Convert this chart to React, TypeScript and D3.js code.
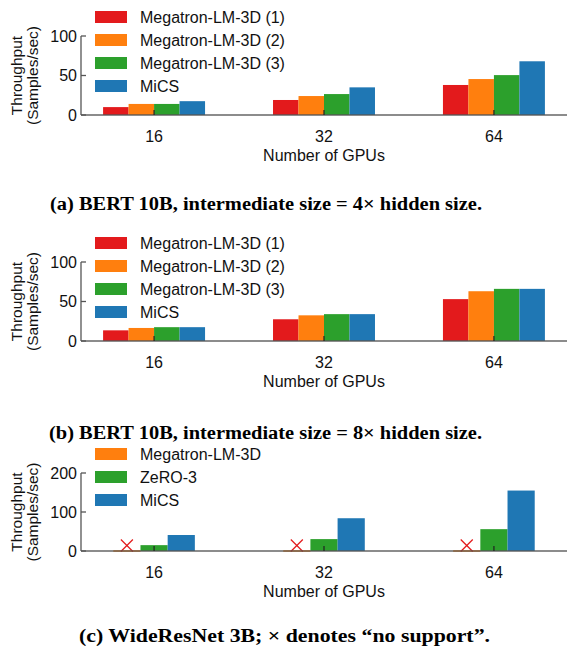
import * as d3 from 'd3';

// ---- data -----------------------------------------------------------------
const gpus = ['16', '32', '64'];

const seriesA = ['Megatron-LM-3D (1)', 'Megatron-LM-3D (2)', 'Megatron-LM-3D (3)', 'MiCS'];
const valuesA = [
  [10, 19, 38],
  [14, 24, 45.5],
  [14, 26.5, 50.5],
  [17.5, 35, 68],
];

const seriesB = ['Megatron-LM-3D (1)', 'Megatron-LM-3D (2)', 'Megatron-LM-3D (3)', 'MiCS'];
const valuesB = [
  [13.5, 27.5, 53],
  [16.5, 32.5, 63],
  [17.5, 34, 66],
  [17.5, 34, 66],
];

const seriesC = ['Megatron-LM-3D', 'ZeRO-3', 'MiCS'];
// null = no support (drawn as a red cross)
const valuesC: (number | null)[][] = [
  [null, null, null],
  [15, 30.5, 56],
  [41, 84, 155],
];

const captions = [
  '(a) BERT 10B, intermediate size = 4× hidden size.',
  '(b) BERT 10B, intermediate size = 8× hidden size.',
  '(c) WideResNet 3B; × denotes “no support”.',
];

const COLORS_4 = ['#e31a1c', '#ff7f0e', '#2ca02c', '#1f77b4'];
const COLORS_3 = ['#ff7f0e', '#2ca02c', '#1f77b4'];

// ---- layout ---------------------------------------------------------------
const W = 567;
const H = 649;
const LEFT = 81;
const RIGHT = 567;
const FONT = '"Liberation Sans", Arial, sans-serif';
const AXIS = '#555';

interface PanelDef {
  series: string[];
  values: (number | null)[][];
  colors: string[];
  yMax: number;
  yTicks: number[];
  y0: number; // pixel of value 0
  y1: number; // pixel of yMax
  barFrac: number;
  caption: string;
  captionX: number;
  captionY: number;
  captionW: number;
}

const panels: PanelDef[] = [
  {
    series: seriesA, values: valuesA, colors: COLORS_4, yMax: 100, yTicks: [0, 50, 100],
    y0: 115, y1: 36, barFrac: 0.15,
    caption: captions[0], captionX: 50, captionY: 209.5, captionW: 432,
  },
  {
    series: seriesB, values: valuesB, colors: COLORS_4, yMax: 100, yTicks: [0, 50, 100],
    y0: 341, y1: 262, barFrac: 0.15,
    caption: captions[1], captionX: 49, captionY: 438.5, captionW: 433,
  },
  {
    series: seriesC, values: valuesC, colors: COLORS_3, yMax: 200, yTicks: [0, 100, 200],
    y0: 551, y1: 473, barFrac: 0.16,
    caption: captions[2], captionX: 79, captionY: 642, captionW: 411,
  },
];

function Panel({ p }: { p: PanelDef }) {
  const x = d3.scalePoint<string>().domain(gpus).range([LEFT, RIGHT]).padding(0.43);
  const step = x.step();
  const bw = step * p.barFrac;
  const inner = d3
    .scaleBand<number>()
    .domain(d3.range(p.series.length))
    .range([(-bw * p.series.length) / 2, (bw * p.series.length) / 2]);
  const y = d3.scaleLinear().domain([0, p.yMax]).range([p.y0, p.y1]);
  const yMid = (p.y0 + p.y1) / 2;

  return (
    <g>
      {/* bars */}
      {p.values.map((row, si) =>
        row.map((v, gi) => {
          const bx = (x(gpus[gi]) ?? 0) + (inner(si) ?? 0);
          if (v == null) {
            // zero-height bar plus a red cross for "no support"
            const cx = bx + inner.bandwidth() / 2;
            const cy = y(0) - 5.5;
            const r = 6;
            return (
              <g key={`${si}-${gi}`}>
                <line x1={bx} x2={bx + inner.bandwidth()} y1={y(0)} y2={y(0)} stroke={p.colors[si]} strokeWidth={1.5} />
                <g stroke="#e31a1c" strokeWidth={1.3}>
                  <line x1={cx - r} y1={cy - r} x2={cx + r} y2={cy + r} />
                  <line x1={cx - r} y1={cy + r} x2={cx + r} y2={cy - r} />
                </g>
              </g>
            );
          }
          return (
            <rect
              key={`${si}-${gi}`}
              x={bx}
              y={y(v)}
              width={inner.bandwidth()}
              height={y(0) - y(v)}
              fill={p.colors[si]}
            />
          );
        }),
      )}

      {/* axes */}
      <line x1={LEFT} x2={RIGHT} y1={p.y0} y2={p.y0} stroke={AXIS} strokeWidth={1.3} strokeOpacity={0.9} />
      <line x1={LEFT} x2={LEFT} y1={p.y0} y2={p.y1} stroke={AXIS} strokeWidth={1.3} />
      {p.yTicks.map((t) => (
        <g key={t}>
          <line x1={LEFT} x2={LEFT + 5} y1={y(t)} y2={y(t)} stroke={AXIS} strokeWidth={1.3} />
          <text x={LEFT - 4} y={y(t)} dy="0.35em" textAnchor="end" fontSize={16} fill="#111">
            {t}
          </text>
        </g>
      ))}
      {gpus.map((g) => (
        <g key={g}>
          <line x1={x(g)} x2={x(g)} y1={p.y0} y2={p.y0 - 5} stroke="#222" strokeWidth={1.2} />
          <text x={x(g)} y={p.y0 + 21} dy="0.35em" textAnchor="middle" fontSize={16} fill="#111">
            {g}
          </text>
        </g>
      ))}
      <text x={(LEFT + RIGHT) / 2} y={p.y0 + 40} dy="0.35em" textAnchor="middle" fontSize={16} fill="#111">
        Number of GPUs
      </text>
      <g transform={`translate(0,${yMid}) rotate(-90)`} fontSize={15.5} fill="#111" textAnchor="middle">
        <text x={0} y={17} dy="0.35em">Throughput</text>
        <text x={0} y={33} dy="0.35em">(Samples/sec)</text>
      </g>

      {/* legend */}
      {p.series.map((s, i) => {
        const cy = p.y1 - 19 + i * 23;
        return (
          <g key={s}>
            <rect x={95} y={cy - 6} width={32} height={12} fill={p.colors[i]} />
            <text x={140} y={cy} dy="0.35em" fontSize={16} fill="#111">
              {s}
            </text>
          </g>
        );
      })}

      <text
        x={p.captionX}
        y={p.captionY}
        textLength={p.captionW}
        lengthAdjust="spacingAndGlyphs"
        fontSize={18}
        fontWeight="bold"
        fontFamily='"Liberation Serif", "DejaVu Serif", serif'
        fill="#000"
      >
        {p.caption}
      </text>
    </g>
  );
}

export default function App() {
  return (
    <svg
      width={W}
      height={H}
      viewBox={`0 0 ${W} ${H}`}
      style={{ position: 'absolute', left: 0, top: 0, background: '#fff', fontFamily: FONT }}
    >
      <rect width={W} height={H} fill="#fff" />
      {panels.map((p, i) => (
        <Panel key={i} p={p} />
      ))}
    </svg>
  );
}
